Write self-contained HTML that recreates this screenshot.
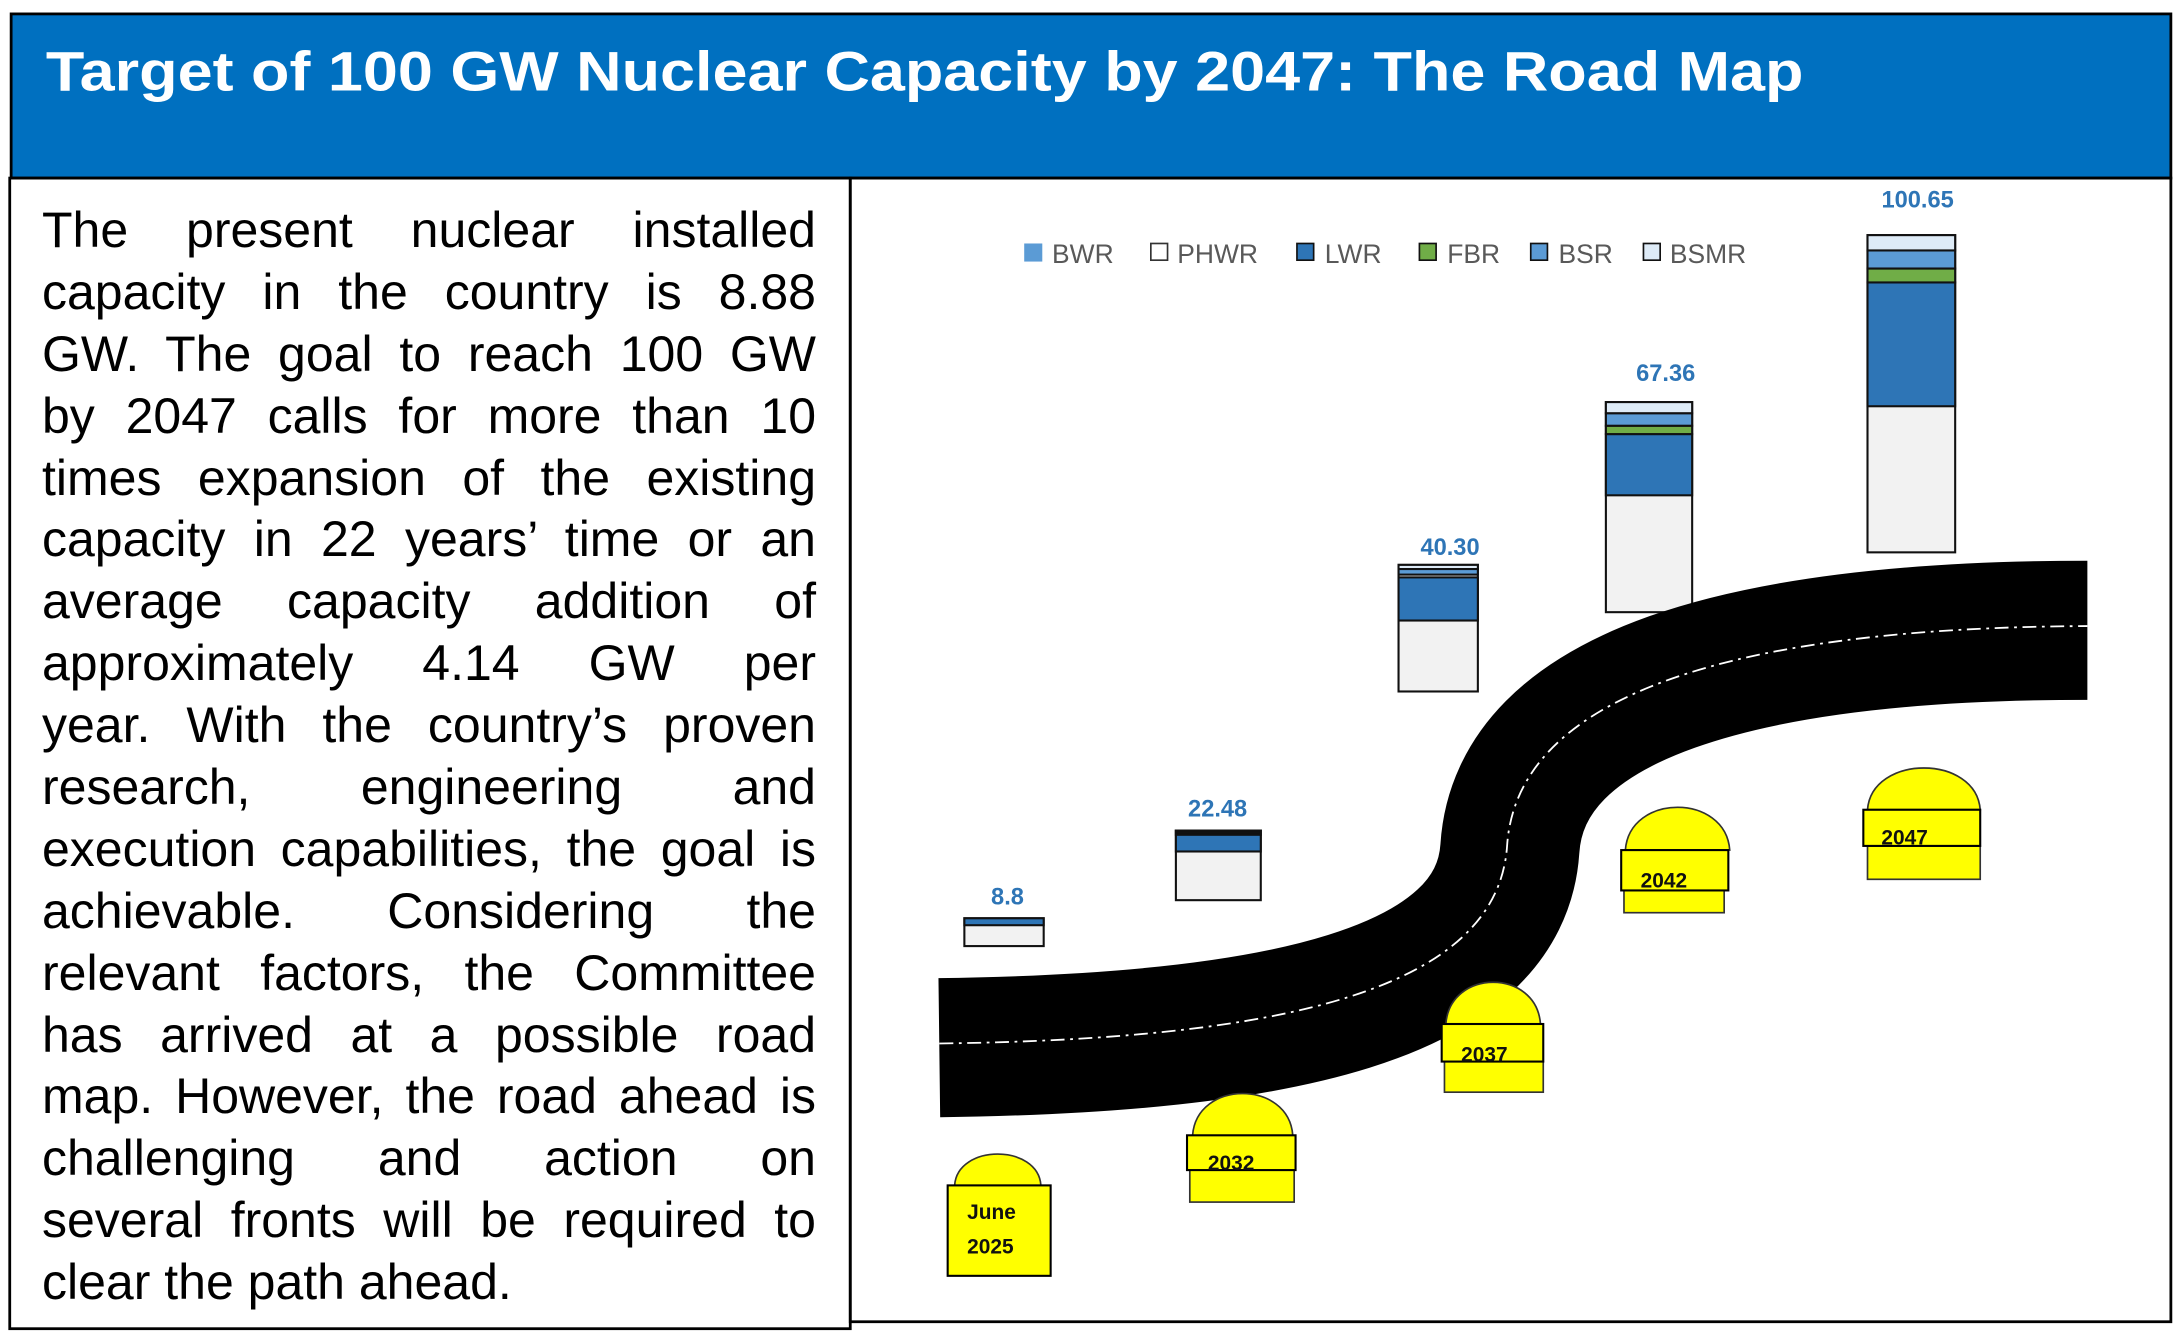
<!DOCTYPE html>
<html><head><meta charset="utf-8"><style>
html,body{margin:0;padding:0;background:#fff;}
svg{display:block;position:absolute;left:0;top:0;}
#txt{position:absolute;left:42px;top:200px;width:774px;font-family:"Liberation Sans",Arial,sans-serif;font-size:50px;color:#000;}
#txt div{height:61.9px;line-height:61.9px;text-align:justify;text-align-last:justify;white-space:nowrap;}
#txt div.l{text-align-last:left;}
</style></head><body>
<svg width="2182" height="1344" viewBox="0 0 1568 966" preserveAspectRatio="none" xmlns="http://www.w3.org/2000/svg">
<rect width="1568" height="966" fill="#fff"/>
<rect x="8" y="10" width="1552" height="118" fill="#0070C0" stroke="#000" stroke-width="2"/>
<text x="33" y="65" font-family="Liberation Sans, Arial, sans-serif" font-weight="bold" font-size="40" fill="#fff" textLength="1263" lengthAdjust="spacingAndGlyphs">Target of 100 GW Nuclear Capacity by 2047: The Road Map</text>
<rect x="7" y="128" width="604" height="827" fill="none" stroke="#000" stroke-width="2"/>
<rect x="611" y="128" width="949" height="822" fill="none" stroke="#000" stroke-width="2"/>
<g font-family="Liberation Sans, Arial, sans-serif" font-size="19" fill="#595959">
<rect x="736" y="175" width="13" height="13" fill="#5B9BD5"/><text x="756" y="189">BWR</text>
<rect x="827" y="175" width="12" height="12" fill="#fff" stroke="#333" stroke-width="1.2"/><text x="846" y="189">PHWR</text>
<rect x="932" y="175" width="12" height="12" fill="#2E75B6" stroke="#111" stroke-width="1.2"/><text x="952" y="189">LWR</text>
<rect x="1020" y="175" width="12" height="12" fill="#70AD47" stroke="#111" stroke-width="1.2"/><text x="1040" y="189">FBR</text>
<rect x="1100" y="175" width="12" height="12" fill="#5B9BD5" stroke="#111" stroke-width="1.2"/><text x="1120" y="189">BSR</text>
<rect x="1181" y="175" width="12" height="12" fill="#DEEBF7" stroke="#111" stroke-width="1.2"/><text x="1200" y="189">BSMR</text>
</g>
<g stroke="#111" stroke-width="1.5">
<rect x="693" y="660" width="57" height="20" fill="#F2F2F2"/>
<rect x="693" y="660" width="57" height="5" fill="#2E75B6"/>
<rect x="845" y="597" width="61" height="50" fill="#F2F2F2"/>
<rect x="845" y="597" width="61" height="15" fill="#2E75B6"/>
<rect x="845" y="597" width="61" height="3" fill="#111"/>
<rect x="1005" y="406" width="57" height="91" fill="#F2F2F2"/>
<rect x="1005" y="415" width="57" height="31" fill="#2E75B6"/>
<rect x="1005" y="406" width="57" height="3" fill="#DEEBF7"/>
<rect x="1005" y="409" width="57" height="4" fill="#5B9BD5"/>
<rect x="1154" y="289" width="62" height="151" fill="#F2F2F2"/>
<rect x="1154" y="312" width="62" height="44" fill="#2E75B6"/>
<rect x="1154" y="306" width="62" height="6" fill="#70AD47"/>
<rect x="1154" y="297" width="62" height="9" fill="#5B9BD5"/>
<rect x="1154" y="289" width="62" height="8" fill="#DEEBF7"/>
<rect x="1342" y="169" width="63" height="228" fill="#F2F2F2"/>
<rect x="1342" y="203" width="63" height="89" fill="#2E75B6"/>
<rect x="1342" y="193" width="63" height="10" fill="#70AD47"/>
<rect x="1342" y="180" width="63" height="13" fill="#5B9BD5"/>
<rect x="1342" y="169" width="63" height="11" fill="#DEEBF7"/>
</g>
<g font-family="Liberation Sans, Arial, sans-serif" font-size="17" font-weight="bold" fill="#2E75B6" text-anchor="middle">
<text x="724" y="650">8.8</text>
<text x="875" y="587">22.48</text>
<text x="1042" y="399">40.30</text>
<text x="1197" y="274">67.36</text>
<text x="1378" y="149">100.65</text>
</g>
<path d="M675,753 C920,750 1078,715 1085,610 C1092,500 1250,453 1500,453" fill="none" stroke="#000" stroke-width="100"/>
<path d="M675,750 C920,747 1076,712 1083,608 C1090,498 1250,451 1500,450" fill="none" stroke="#fff" stroke-width="1.3" stroke-dasharray="10 4 2 4"/>
<g stroke="#333" stroke-width="1.2" fill="#FFFF00">
<path d="M686,852 C688,822 746,822 748,852 Z"/>
<rect x="681" y="852" width="74" height="65" stroke="#000" stroke-width="1.5"/>
<path d="M857,816 C860,776 926,776 929,816 Z"/>
<rect x="855" y="841" width="75" height="23"/>
<rect x="853" y="816" width="78" height="25" stroke="#000" stroke-width="1.5"/>
<path d="M1039,736 C1042,696 1104,696 1107,736 Z"/>
<rect x="1038" y="763" width="71" height="22"/>
<rect x="1036" y="736" width="73" height="27" stroke="#000" stroke-width="1.5"/>
<path d="M1168,611 C1171,570 1240,570 1243,611 Z"/>
<rect x="1167" y="640" width="72" height="16"/>
<rect x="1165" y="611" width="77" height="29" stroke="#000" stroke-width="1.5"/>
<path d="M1342,582 C1345,542 1420,542 1423,582 Z"/>
<rect x="1342" y="608" width="81" height="24"/>
<rect x="1339" y="582" width="84" height="26" stroke="#000" stroke-width="1.5"/>
</g>
<g font-family="Liberation Sans, Arial, sans-serif" font-size="15" font-weight="bold" fill="#111">
<text x="695" y="876">June</text>
<text x="695" y="901">2025</text>
<text x="868" y="841">2032</text>
<text x="1050" y="763">2037</text>
<text x="1179" y="638">2042</text>
<text x="1352" y="607">2047</text>
</g>
</svg>
<div id="txt">
<div>The present nuclear installed</div>
<div>capacity in the country is 8.88</div>
<div>GW. The goal to reach 100 GW</div>
<div>by 2047 calls for more than 10</div>
<div>times expansion of the existing</div>
<div>capacity in 22 years’ time or an</div>
<div>average capacity addition of</div>
<div>approximately 4.14 GW per</div>
<div>year. With the country’s proven</div>
<div>research, engineering and</div>
<div>execution capabilities, the goal is</div>
<div>achievable. Considering the</div>
<div>relevant factors, the Committee</div>
<div>has arrived at a possible road</div>
<div>map. However, the road ahead is</div>
<div>challenging and action on</div>
<div>several fronts will be required to</div>
<div class="l">clear the path ahead.</div>
</div>
</body></html>
